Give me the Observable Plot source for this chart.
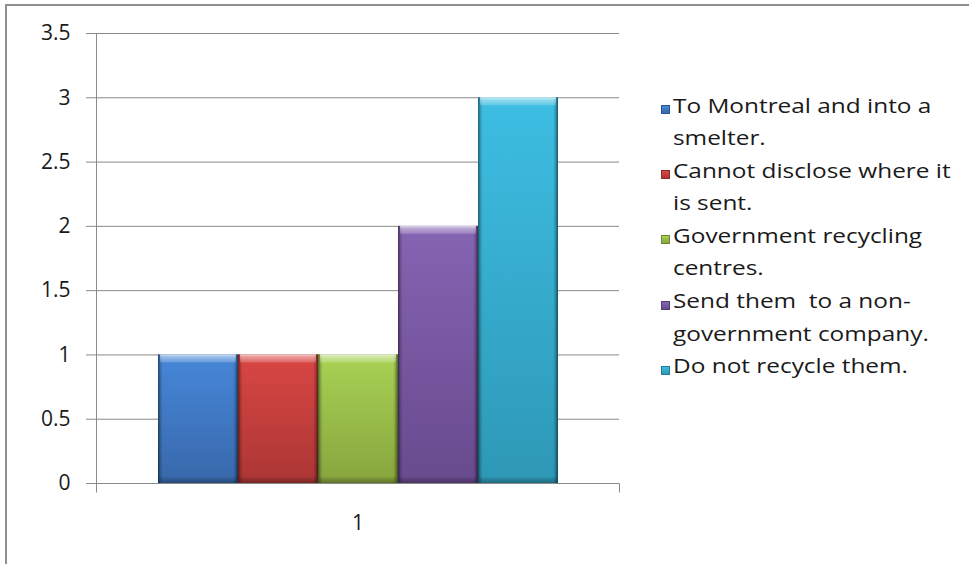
<!DOCTYPE html>
<html>
<head>
<meta charset="utf-8">
<script src="https://cdn.jsdelivr.net/npm/d3@7"></script>
<script src="https://cdn.jsdelivr.net/npm/@observablehq/plot@0.6"></script>
<style>
  body { margin: 0; background: #fff; }
  #wrap { position: relative; width: 969px; height: 564px; overflow: hidden; font-family: "Open Sans", sans-serif; }
  #border { position: absolute; left: 5px; top: 4px; width: 1000px; height: 700px; border: 2px solid #8f8f8f; box-sizing: border-box; pointer-events: none; }
  #chart { position: absolute; left: 0; top: 0; }
  #legend { position: absolute; left: 661px; top: 89.5px; }
  .item { display: flex; align-items: flex-start; }
  .sw { width: 9px; height: 9px; margin-top: 15.5px; margin-right: 3px; box-sizing: border-box; flex: none; }
  .lab { width: 232px; transform: scaleX(1.25); transform-origin: 0 0; font-size: 19.5px; line-height: 32.6px; color: #1a1a1a; white-space: pre-wrap; }
</style>
</head>
<body>
<div id="wrap">
  <div id="chart"></div>
  <div id="legend"></div>
  <div id="border"></div>
</div>
<script>
// ---- data ----
const categories = ["1"];
const series = [
  "To Montreal and into a smelter.",
  "Cannot disclose where it is sent.",
  "Government recycling centres.",
  "Send them  to a non-government company.",
  "Do not recycle them."
];
const values = [1, 1, 1, 2, 3];
const yTicks = [0, 0.5, 1, 1.5, 2, 2.5, 3, 3.5];
// colours
const colorTop = ["#4687d8", "#d94744", "#a8d254", "#8564b2", "#3dbee3"];
const colorBottom = ["#3868ab", "#ab3634", "#87a53e", "#684a8e", "#2e98b6"];
const colorEdge = ["#2c5690", "#8e2a28", "#6c8830", "#533b74", "#237b94"];

const data = series.map((s, i) => ({ series: s, value: values[i], category: categories[0] }));

// ---- gradient definitions ----
function defsMark() {
  const g = d3.create("svg:g");
  const defs = g.append("defs");
  series.forEach((s, i) => {
    const lg = defs.append("linearGradient").attr("id", "bar" + i).attr("x1", 0).attr("x2", 0).attr("y1", 0).attr("y2", 1);
    lg.append("stop").attr("offset", 0).attr("stop-color", colorTop[i]);
    lg.append("stop").attr("offset", 1).attr("stop-color", colorBottom[i]);
  });
  const side = defs.append("linearGradient").attr("id", "side").attr("x1", 0).attr("x2", 1).attr("y1", 0).attr("y2", 0);
  [[0, 0.5], [0.035, 0.14], [0.06, 0], [0.94, 0], [0.965, 0.16], [1, 0.55]].forEach(([o, a]) =>
    side.append("stop").attr("offset", o).attr("stop-color", "#000").attr("stop-opacity", a));
  const top = defs.append("linearGradient").attr("id", "topHi").attr("x1", 0).attr("x2", 0).attr("y1", 0).attr("y2", 1);
  [[0, 0.75], [0.3, 0.45], [1, 0.18]].forEach(([o, a]) =>
    top.append("stop").attr("offset", o).attr("stop-color", "#fff").attr("stop-opacity", a));
  const bot = defs.append("linearGradient").attr("id", "botSh").attr("x1", 0).attr("x2", 1 - 1).attr("y1", 0).attr("y2", 1);
  [[0, 0.05], [1, 0.3]].forEach(([o, a]) =>
    bot.append("stop").attr("offset", o).attr("stop-color", "#000").attr("stop-opacity", a));
  return g.node();
}

// ---- axis lines (Excel style) ----
function axisLines(index, scales, values, dims) {
  const L = dims.marginLeft, R = dims.width - dims.marginRight;
  const T = scales.y(yTicks[yTicks.length - 1]), B = scales.y(0);
  const g = d3.create("svg:g").attr("stroke", "#8a8a8a").attr("transform", "translate(0.5,0.5)");
  g.append("line").attr("x1", L).attr("x2", L).attr("y1", T).attr("y2", B + 9);
  g.append("line").attr("x1", L - 10).attr("x2", R).attr("y1", B).attr("y2", B);
  g.append("line").attr("x1", R).attr("x2", R).attr("y1", B).attr("y2", B + 9);
  return g.node();
}

const chart = Plot.plot({
  width: 969,
  height: 564,
  marginLeft: 96,
  marginRight: 350,
  marginTop: 33,
  marginBottom: 81,
  style: { fontFamily: "Open Sans, sans-serif", fontSize: "21px", background: "transparent", color: "#1a1a1a" },
  x: { domain: series, paddingInner: 0, paddingOuter: 0.745, axis: null },
  y: { domain: [0, 3.5] },
  color: { domain: series, range: series.map((s, i) => `url(#bar${i})`) },
  marks: [
    defsMark,
    Plot.gridY(yTicks, { stroke: "#8a8a8a", strokeOpacity: 1 }),
    Plot.axisY(yTicks, { tickSize: 10, tickPadding: 16, stroke: "#8a8a8a", fill: "#1a1a1a", label: null, fontSize: 21, tickFormat: d => String(d) }),
    axisLines,
    Plot.barY(data, { x: "series", y: "value", fill: "series" }),
    Plot.barY(data, { x: "series", y: "value", fill: "url(#side)" }),
    Plot.barY(data, { x: "series", y1: "value", y2: "value", insetBottom: -8, insetLeft: 2, insetRight: 2, fill: "url(#topHi)" }),
    Plot.barY(data, { x: "series", y1: 0, y2: 0, insetTop: -6, insetLeft: 1, insetRight: 1, fill: "url(#botSh)" }),
    Plot.text(categories, { frameAnchor: "bottom", dy: 46, fontSize: 21, fill: "#1a1a1a" })
  ]
});
document.getElementById("chart").appendChild(chart);

// ---- legend ----
const legend = d3.select("#legend");
series.forEach((s, i) => {
  const item = legend.append("div").attr("class", "item");
  item.append("div").attr("class", "sw")
    .style("background", `linear-gradient(${colorTop[i]}, ${colorBottom[i]})`)
    .style("border", `1px solid ${colorEdge[i]}`);
  item.append("div").attr("class", "lab").text(s);
});
</script>
</body>
</html>
